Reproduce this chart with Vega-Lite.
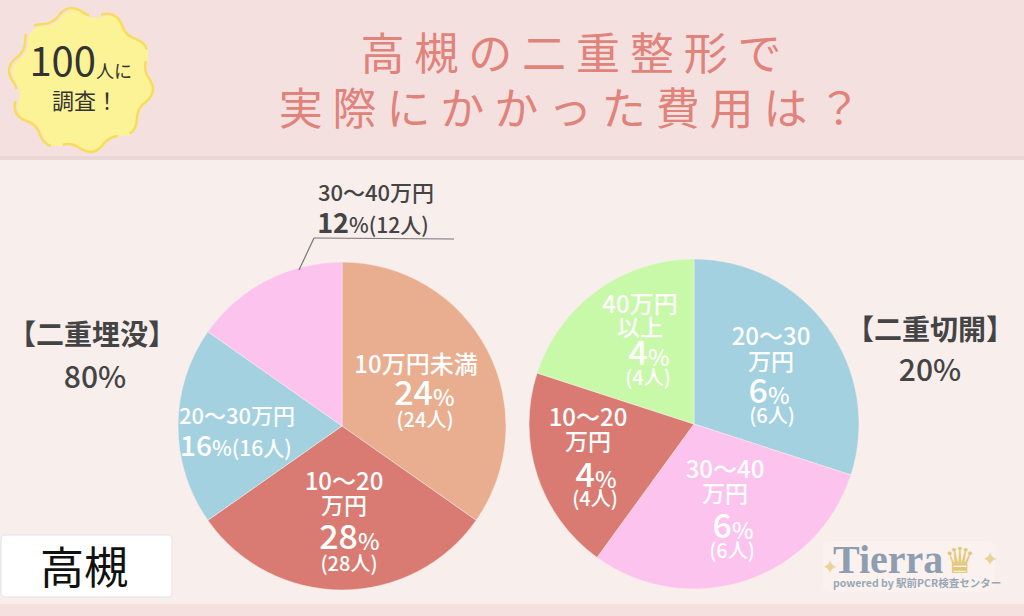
{
"$schema":"https://vega.github.io/schema/vega-lite/v6.json",
"width":1024,"height":616,"padding":0,
"autosize":{"type":"fit","contains":"padding"},
"background":"#f8eeec",
"config":{"view":{"stroke":null},"axis":{"disable":true},"text":{"font":"Noto Sans CJK JP","fontWeight":500,"color":"#ffffff","align":"center","baseline":"middle"}},
"datasets":{"slices":[
{"pie":"二重埋没","range":"10万円未満","rank":1,"share":27.8},
{"pie":"二重埋没","range":"10〜20万円","rank":2,"share":24.4},
{"pie":"二重埋没","range":"20〜30万円","rank":3,"share":15.6},
{"pie":"二重埋没","range":"30〜40万円","rank":4,"share":12.2},
{"pie":"二重切開","range":"20〜30万円","rank":1,"share":6},
{"pie":"二重切開","range":"30〜40万円","rank":2,"share":6},
{"pie":"二重切開","range":"10〜20万円","rank":3,"share":4},
{"pie":"二重切開","range":"40万円以上","rank":4,"share":4}
]},
"layer":[
{"data":{"values":[{"band":"header"}]},"mark":{"type":"rect","color":"#f5e0e0"},"encoding":{"x":{"datum":0,"scale":{"domain":[0,1024],"nice":false,"zero":false}},"x2":{"datum":1024},"y":{"datum":0,"scale":{"domain":[616,0],"nice":false,"zero":false}},"y2":{"datum":156}}},
{"data":{"values":[{"band":"rule"}]},"mark":{"type":"rect","color":"#ecd7d7"},"encoding":{"x":{"datum":0},"x2":{"datum":1024},"y":{"datum":156},"y2":{"datum":160}}},
{"data":{"values":[{"band":"footer"}]},"mark":{"type":"rect","color":"#f5e0df"},"encoding":{"x":{"datum":0},"x2":{"datum":1024},"y":{"datum":604},"y2":{"datum":616}}},
{"data":{"values":[{"badge":"fill"}]},"mark":{"type":"point","filled":true,"color":"#fbf396","opacity":1,"size":18496,"shape":"M1 0Q1.106 .175 .951 .309Q.802 .409 .809 .588Q.792 .792 .588 .809Q.409 .802 .309 .951Q.175 1.106 0 1Q-.141 .889 -.309 .951Q-.508 .998 -.588 .809Q-.636 .636 -.809 .588Q-.998 .508 -.951 .309Q-.889 .141 -1 0Q-1.106 -.175 -.951 -.309Q-.802 -.409 -.809 -.588Q-.792 -.792 -.588 -.809Q-.409 -.802 -.309 -.951Q-.175 -1.106 0 -1Q.141 -.889 .309 -.951Q.508 -.998 .588 -.809Q.636 -.636 .809 -.588Q.998 -.508 .951 -.309Q.889 -.141 1 0Z"},"encoding":{"x":{"datum":83},"y":{"datum":81}}},
{"data":{"values":[{"badge":"outline"}]},"mark":{"type":"point","filled":false,"stroke":"#f9dc5c","strokeWidth":2.5,"opacity":1,"strokeDash":[62,12],"size":19044,"shape":"M1 0Q1.106 .175 .951 .309Q.802 .409 .809 .588Q.792 .792 .588 .809Q.409 .802 .309 .951Q.175 1.106 0 1Q-.141 .889 -.309 .951Q-.508 .998 -.588 .809Q-.636 .636 -.809 .588Q-.998 .508 -.951 .309Q-.889 .141 -1 0Q-1.106 -.175 -.951 -.309Q-.802 -.409 -.809 -.588Q-.792 -.792 -.588 -.809Q-.409 -.802 -.309 -.951Q-.175 -1.106 0 -1Q.141 -.889 .309 -.951Q.508 -.998 .588 -.809Q.636 -.636 .809 -.588Q.998 -.508 .951 -.309Q.889 -.141 1 0Z"},"encoding":{"x":{"datum":81},"y":{"datum":80}}},
{"data":{"values":[{"t":"100"}]},"mark":{"type":"text","fontSize":40,"fontWeight":400,"color":"#333333","align":"right"},"encoding":{"x":{"datum":96},"y":{"datum":64},"text":{"field":"t"}}},
{"data":{"values":[{"t":"人に"}]},"mark":{"type":"text","fontSize":18,"fontWeight":400,"color":"#333333","align":"left"},"encoding":{"x":{"datum":96},"y":{"datum":73},"text":{"field":"t"}}},
{"data":{"values":[{"t":"調査！"}]},"mark":{"type":"text","fontSize":22,"fontWeight":400,"color":"#333333"},"encoding":{"x":{"datum":85},"y":{"datum":102},"text":{"field":"t"}}},
{"data":{"values":[{"t":"高 槻 の 二 重 整 形 で"}]},"mark":{"type":"text","fontSize":44,"fontWeight":400,"color":"#e0837b"},"encoding":{"x":{"datum":571},"y":{"datum":57},"text":{"field":"t"}}},
{"data":{"values":[{"t":"実 際 に か か っ た 費 用 は ？"}]},"mark":{"type":"text","fontSize":44,"fontWeight":400,"color":"#e0837b"},"encoding":{"x":{"datum":570},"y":{"datum":112},"text":{"field":"t"}}},
{"data":{"name":"slices"},"transform":[{"filter":"datum.pie=='二重埋没'"}],"mark":{"type":"arc","radius":164,"stroke":"#f8eeec","strokeWidth":0.5},"encoding":{"x":{"datum":342},"y":{"datum":426},"theta":{"field":"share","type":"quantitative","stack":"normalize"},"order":{"field":"rank"},"color":{"field":"range","type":"nominal","legend":null,"scale":{"domain":["10万円未満","10〜20万円","20〜30万円","30〜40万円","40万円以上"],"range":["#e8ae8f","#d97b72","#a4d1df","#fdc3ef","#c8f9a8"]}}}},
{"data":{"name":"slices"},"transform":[{"filter":"datum.pie=='二重切開'"}],"mark":{"type":"arc","radius":165,"stroke":"#f8eeec","strokeWidth":0.5},"encoding":{"x":{"datum":694},"y":{"datum":424},"theta":{"field":"share","type":"quantitative","stack":"normalize"},"order":{"field":"rank"},"color":{"field":"range","type":"nominal","legend":null}}},
{"data":{"values":[{"leader":"a"}]},"mark":{"type":"rule","color":"#777777","strokeWidth":1.2},"encoding":{"x":{"datum":299},"y":{"datum":270},"x2":{"datum":314},"y2":{"datum":238}}},
{"data":{"values":[{"leader":"b"}]},"mark":{"type":"rule","color":"#777777","strokeWidth":1.2},"encoding":{"x":{"datum":314},"y":{"datum":238},"x2":{"datum":454},"y2":{"datum":239}}},
{"data":{"values":[{"t":"30〜40万円"}]},"mark":{"type":"text","fontSize":22,"color":"#444444"},"encoding":{"x":{"datum":376},"y":{"datum":194},"text":{"field":"t"}}},
{"data":{"values":[{"t":"12"}]},"mark":{"type":"text","fontSize":27,"fontWeight":700,"color":"#444444","align":"right"},"encoding":{"x":{"datum":349},"y":{"datum":225},"text":{"field":"t"}}},
{"data":{"values":[{"t":"%(12人)"}]},"mark":{"type":"text","fontSize":21,"color":"#444444","align":"left"},"encoding":{"x":{"datum":349},"y":{"datum":227},"text":{"field":"t"}}},
{"data":{"values":[{"t":"10万円未満"}]},"mark":{"type":"text","fontSize":24},"encoding":{"x":{"datum":416},"y":{"datum":366},"text":{"field":"t"}}},
{"data":{"values":[{"t":"24"}]},"mark":{"type":"text","fontSize":34,"align":"right"},"encoding":{"x":{"datum":433},"y":{"datum":395},"text":{"field":"t"}}},
{"data":{"values":[{"t":"%"}]},"mark":{"type":"text","fontSize":23,"align":"left"},"encoding":{"x":{"datum":433},"y":{"datum":399},"text":{"field":"t"}}},
{"data":{"values":[{"t":"(24人)"}]},"mark":{"type":"text","fontSize":20},"encoding":{"x":{"datum":425},"y":{"datum":421},"text":{"field":"t"}}},
{"data":{"values":[{"t":"10〜20"}]},"mark":{"type":"text","fontSize":24},"encoding":{"x":{"datum":344},"y":{"datum":483},"text":{"field":"t"}}},
{"data":{"values":[{"t":"万円"}]},"mark":{"type":"text","fontSize":23},"encoding":{"x":{"datum":344},"y":{"datum":507},"text":{"field":"t"}}},
{"data":{"values":[{"t":"28"}]},"mark":{"type":"text","fontSize":34,"align":"right"},"encoding":{"x":{"datum":358},"y":{"datum":539},"text":{"field":"t"}}},
{"data":{"values":[{"t":"%"}]},"mark":{"type":"text","fontSize":23,"align":"left"},"encoding":{"x":{"datum":358},"y":{"datum":543},"text":{"field":"t"}}},
{"data":{"values":[{"t":"(28人)"}]},"mark":{"type":"text","fontSize":20},"encoding":{"x":{"datum":349},"y":{"datum":565},"text":{"field":"t"}}},
{"data":{"values":[{"t":"20〜30万円"}]},"mark":{"type":"text","fontSize":22},"encoding":{"x":{"datum":237},"y":{"datum":417},"text":{"field":"t"}}},
{"data":{"values":[{"t":"16"}]},"mark":{"type":"text","fontSize":28,"align":"right"},"encoding":{"x":{"datum":212},"y":{"datum":448},"text":{"field":"t"}}},
{"data":{"values":[{"t":"%(16人)"}]},"mark":{"type":"text","fontSize":21,"align":"left"},"encoding":{"x":{"datum":212},"y":{"datum":450},"text":{"field":"t"}}},
{"data":{"values":[{"t":"20〜30"}]},"mark":{"type":"text","fontSize":24},"encoding":{"x":{"datum":771},"y":{"datum":338},"text":{"field":"t"}}},
{"data":{"values":[{"t":"万円"}]},"mark":{"type":"text","fontSize":23},"encoding":{"x":{"datum":771},"y":{"datum":363},"text":{"field":"t"}}},
{"data":{"values":[{"t":"6"}]},"mark":{"type":"text","fontSize":34,"align":"right"},"encoding":{"x":{"datum":768},"y":{"datum":393},"text":{"field":"t"}}},
{"data":{"values":[{"t":"%"}]},"mark":{"type":"text","fontSize":23,"align":"left"},"encoding":{"x":{"datum":768},"y":{"datum":397},"text":{"field":"t"}}},
{"data":{"values":[{"t":"(6人)"}]},"mark":{"type":"text","fontSize":20},"encoding":{"x":{"datum":772},"y":{"datum":417},"text":{"field":"t"}}},
{"data":{"values":[{"t":"30〜40"}]},"mark":{"type":"text","fontSize":24},"encoding":{"x":{"datum":725},"y":{"datum":471},"text":{"field":"t"}}},
{"data":{"values":[{"t":"万円"}]},"mark":{"type":"text","fontSize":23},"encoding":{"x":{"datum":725},"y":{"datum":495},"text":{"field":"t"}}},
{"data":{"values":[{"t":"6"}]},"mark":{"type":"text","fontSize":34,"align":"right"},"encoding":{"x":{"datum":732},"y":{"datum":528},"text":{"field":"t"}}},
{"data":{"values":[{"t":"%"}]},"mark":{"type":"text","fontSize":23,"align":"left"},"encoding":{"x":{"datum":732},"y":{"datum":532},"text":{"field":"t"}}},
{"data":{"values":[{"t":"(6人)"}]},"mark":{"type":"text","fontSize":20},"encoding":{"x":{"datum":732},"y":{"datum":552},"text":{"field":"t"}}},
{"data":{"values":[{"t":"10〜20"}]},"mark":{"type":"text","fontSize":24},"encoding":{"x":{"datum":588},"y":{"datum":419},"text":{"field":"t"}}},
{"data":{"values":[{"t":"万円"}]},"mark":{"type":"text","fontSize":23},"encoding":{"x":{"datum":588},"y":{"datum":443},"text":{"field":"t"}}},
{"data":{"values":[{"t":"4"}]},"mark":{"type":"text","fontSize":34,"align":"right"},"encoding":{"x":{"datum":595},"y":{"datum":477},"text":{"field":"t"}}},
{"data":{"values":[{"t":"%"}]},"mark":{"type":"text","fontSize":23,"align":"left"},"encoding":{"x":{"datum":595},"y":{"datum":481},"text":{"field":"t"}}},
{"data":{"values":[{"t":"(4人)"}]},"mark":{"type":"text","fontSize":20},"encoding":{"x":{"datum":595},"y":{"datum":500},"text":{"field":"t"}}},
{"data":{"values":[{"t":"40万円"}]},"mark":{"type":"text","fontSize":24},"encoding":{"x":{"datum":640},"y":{"datum":306},"text":{"field":"t"}}},
{"data":{"values":[{"t":"以上"}]},"mark":{"type":"text","fontSize":23},"encoding":{"x":{"datum":640},"y":{"datum":329},"text":{"field":"t"}}},
{"data":{"values":[{"t":"4"}]},"mark":{"type":"text","fontSize":34,"align":"right"},"encoding":{"x":{"datum":648},"y":{"datum":355},"text":{"field":"t"}}},
{"data":{"values":[{"t":"%"}]},"mark":{"type":"text","fontSize":23,"align":"left"},"encoding":{"x":{"datum":648},"y":{"datum":359},"text":{"field":"t"}}},
{"data":{"values":[{"t":"(4人)"}]},"mark":{"type":"text","fontSize":20},"encoding":{"x":{"datum":648},"y":{"datum":379},"text":{"field":"t"}}},
{"data":{"values":[{"t":"【二重埋没】"}]},"mark":{"type":"text","fontSize":28,"fontWeight":700,"color":"#444444"},"encoding":{"x":{"datum":92},"y":{"datum":337},"text":{"field":"t"}}},
{"data":{"values":[{"t":"80%"}]},"mark":{"type":"text","fontSize":30,"color":"#444444"},"encoding":{"x":{"datum":95},"y":{"datum":379},"text":{"field":"t"}}},
{"data":{"values":[{"t":"【二重切開】"}]},"mark":{"type":"text","fontSize":28,"fontWeight":700,"color":"#444444"},"encoding":{"x":{"datum":930},"y":{"datum":332},"text":{"field":"t"}}},
{"data":{"values":[{"t":"20%"}]},"mark":{"type":"text","fontSize":30,"color":"#444444"},"encoding":{"x":{"datum":930},"y":{"datum":372},"text":{"field":"t"}}},
{"data":{"values":[{"box":"area"}]},"mark":{"type":"rect","color":"#ffffff","stroke":"#e6e0ea","strokeWidth":1,"cornerRadius":4},"encoding":{"x":{"datum":1},"x2":{"datum":172},"y":{"datum":535},"y2":{"datum":597}}},
{"data":{"values":[{"t":"高槻"}]},"mark":{"type":"text","fontSize":44,"fontWeight":400,"color":"#111111"},"encoding":{"x":{"datum":84},"y":{"datum":571},"text":{"field":"t"}}},
{"data":{"values":[{"logo":"panel"}]},"mark":{"type":"rect","color":"#fbf2f0","cornerRadius":6},"encoding":{"x":{"datum":823},"x2":{"datum":995},"y":{"datum":541},"y2":{"datum":592}}},
{"data":{"values":[{"t":"♛"}]},"mark":{"type":"text","font":"DejaVu Sans","fontSize":36,"color":"#e3c877"},"encoding":{"x":{"datum":960},"y":{"datum":562},"text":{"field":"t"}}},
{"data":{"values":[{"t":"✦"}]},"mark":{"type":"text","font":"DejaVu Sans","fontSize":20,"color":"#e8d49a"},"encoding":{"x":{"datum":830},"y":{"datum":568},"text":{"field":"t"}}},
{"data":{"values":[{"t":"✦"}]},"mark":{"type":"text","font":"DejaVu Sans","fontSize":20,"color":"#e8d49a"},"encoding":{"x":{"datum":990},"y":{"datum":560},"text":{"field":"t"}}},
{"data":{"values":[{"t":"Tierra"}]},"mark":{"type":"text","font":"Liberation Serif","fontSize":40,"fontWeight":700,"color":"#8d9eb0","align":"left"},"encoding":{"x":{"datum":833},"y":{"datum":561},"text":{"field":"t"}}},
{"data":{"values":[{"t":"powered by 駅前PCR検査センター"}]},"mark":{"type":"text","fontSize":10.5,"fontWeight":700,"color":"#98a7b6","align":"left"},"encoding":{"x":{"datum":833},"y":{"datum":584},"text":{"field":"t"}}}
]
}
